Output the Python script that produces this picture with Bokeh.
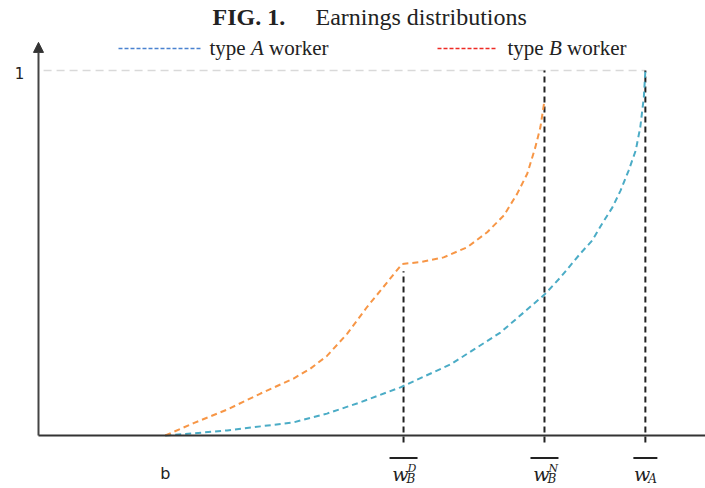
from bokeh.plotting import figure
from bokeh.models import Range1d, Label, Arrow, NormalHead, ColumnDataSource
from bokeh.core.properties import value
from bokeh.embed import file_html
from bokeh.resources import INLINE

# ---------------- data ----------------
b_value = 2.5
tick_values = [7.2, 9.98, 11.97]          # upper bounds: w_B^D, w_B^N, w_A
tick_main = ["w", "w", "w"]
tick_sub = ["B", "B", "A"]
tick_sup = ["D", "N", ""]
vline_tops = [0.45, 1.0, 1.0]

# type A worker earnings distribution F_A(w)
fa_x = [2.5, 3.06, 3.72, 4.38, 5.03, 5.69, 6.35, 7.14, 8.13, 9.11, 9.98,
        10.30, 10.69, 10.92, 11.12, 11.32, 11.48, 11.64, 11.78, 11.87, 11.94, 11.97]
fa_y = [0.0, 0.006, 0.014, 0.025, 0.036, 0.060, 0.091, 0.132, 0.195, 0.282, 0.386,
        0.434, 0.499, 0.534, 0.581, 0.625, 0.671, 0.726, 0.781, 0.845, 0.927, 1.0]

# type B worker earnings distribution F_B(w)
fb_x = [2.5, 3.06, 3.72, 4.38, 5.03, 5.36, 5.69, 6.09, 6.48, 6.88, 7.17, 7.54, 7.99,
        8.46, 8.85, 9.18, 9.44, 9.64, 9.80, 9.90, 9.98]
fb_y = [0.0, 0.034, 0.071, 0.115, 0.156, 0.183, 0.218, 0.279, 0.352, 0.420, 0.470, 0.475,
        0.488, 0.516, 0.557, 0.603, 0.662, 0.717, 0.790, 0.845, 0.918]

level_one = 1.0

# ---------------- figure ----------------
W, H = 705, 488
X0, X1 = -0.7495, 13.156
Y0, Y1 = -0.1452, 1.1918
px_per_y = H / (Y1 - Y0)

p = figure(width=W, height=H, output_backend="svg", toolbar_location=None,
           x_range=Range1d(X0, X1), y_range=Range1d(Y0, Y1),
           x_axis_type=None, y_axis_type=None, min_border=0)
p.outline_line_color = None
p.grid.visible = False
p.background_fill_color = "white"
p.border_fill_color = "white"

TEAL = "#4BACC6"
ORANGE = "#F79646"
DARK = "#222222"

# level line at 1
p.line([0.1, tick_values[-1]], [level_one, level_one], line_color="#d9d9d9",
       line_width=1.5, line_dash="8 5")

# vertical dashed bounds
p.segment(x0=tick_values, y0=[-7 / px_per_y] * 3, x1=tick_values, y1=vline_tops,
          line_color=DARK, line_width=2, line_dash="6 4")

# curves
p.line(fa_x, fa_y, line_color=TEAL, line_width=2, line_dash="6 4")
p.line(fb_x, fb_y, line_color=ORANGE, line_width=2, line_dash="6 4")

# axes
p.add_layout(Arrow(x_start=0, y_start=0, x_end=X1, y_end=0, end=None,
                   line_color="#333333", line_width=2))
p.add_layout(Arrow(x_start=0, y_start=0, x_end=0, y_end=1.077,
                   end=NormalHead(size=10, fill_color="#333333", line_color="#333333"),
                   line_color="#444444", line_width=2))

# y label "1"
p.add_layout(Label(x=0, y=level_one, x_offset=-19, y_offset=-2, text="1",
                   text_font="DejaVu Sans", text_font_size="15px",
                   text_align="center", text_baseline="middle", text_color=DARK))
# x label "b"
p.add_layout(Label(x=b_value, y=0, x_offset=0, y_offset=-38, text="b",
                   text_font="DejaVu Sans", text_font_size="16px",
                   text_align="center", text_baseline="middle", text_color=DARK))

# tick labels  overline{w_B^D} etc.
src = ColumnDataSource(dict(x=tick_values, y=[0] * 3, m=tick_main, sub=tick_sub, sup=tick_sup))
p.text(x="x", y="y", text="m", source=src, text_font=value("DejaVu Serif"),
       text_font_style="italic", text_font_size="19px", text_align="right",
       text_baseline="middle", x_offset=5, y_offset=38, text_color=DARK)
p.text(x="x", y="y", text="sub", source=src, text_font=value("DejaVu Serif"),
       text_font_style="italic", text_font_size="12px", text_align="left",
       text_baseline="middle", x_offset=3, y_offset=43.5, text_color=DARK)
p.text(x="x", y="y", text="sup", source=src, text_font=value("DejaVu Serif"),
       text_font_style="italic", text_font_size="11px", text_align="left",
       text_baseline="middle", x_offset=4, y_offset=33, text_color=DARK)
src_bar = ColumnDataSource(dict(x=tick_values, y=[-22.5 / px_per_y] * 3, w=[28, 28, 24]))
p.rect(x="x", y="y", width="w", height=2, width_units="screen", height_units="screen",
       source=src_bar, fill_color=DARK, line_color=None)

# title
SERIF = "Liberation Serif"
TITLE_Y = H - 16
p.add_layout(Label(x=212, y=TITLE_Y, x_units="screen", y_units="screen", text="FIG. 1.",
                   text_font=SERIF, text_font_style="bold", text_font_size="24px",
                   text_baseline="middle", text_color=DARK))
p.add_layout(Label(x=315, y=TITLE_Y, x_units="screen", y_units="screen",
                   text="Earnings distributions",
                   text_font=SERIF, text_font_size="24px",
                   text_baseline="middle", text_color=DARK))

# legend
LEG_Y = H - 48
p.add_layout(Arrow(x_start=118, y_start=LEG_Y, x_end=202, y_end=LEG_Y, end=None,
                   start_units="screen", end_units="screen",
                   line_color="#4a82d0", line_width=1.5, line_dash="4 2"))
p.add_layout(Arrow(x_start=437, y_start=LEG_Y, x_end=497, y_end=LEG_Y, end=None,
                   start_units="screen", end_units="screen",
                   line_color="#ee2a24", line_width=1.5, line_dash="4 2"))

def legend_text(x0, letter):
    base = H - 47
    kw = dict(x_units="screen", y_units="screen", text_font=SERIF, text_font_size="21px",
              text_baseline="middle", text_color=DARK)
    p.add_layout(Label(x=x0, y=base, text="type", **kw))
    p.add_layout(Label(x=x0 + 41.5, y=base, text=letter, text_font_style="italic", **kw))
    p.add_layout(Label(x=x0 + 59.5, y=base, text="worker", **kw))

legend_text(209, "A")
legend_text(507, "B")

open("out.html", "w").write(file_html(p, INLINE))
